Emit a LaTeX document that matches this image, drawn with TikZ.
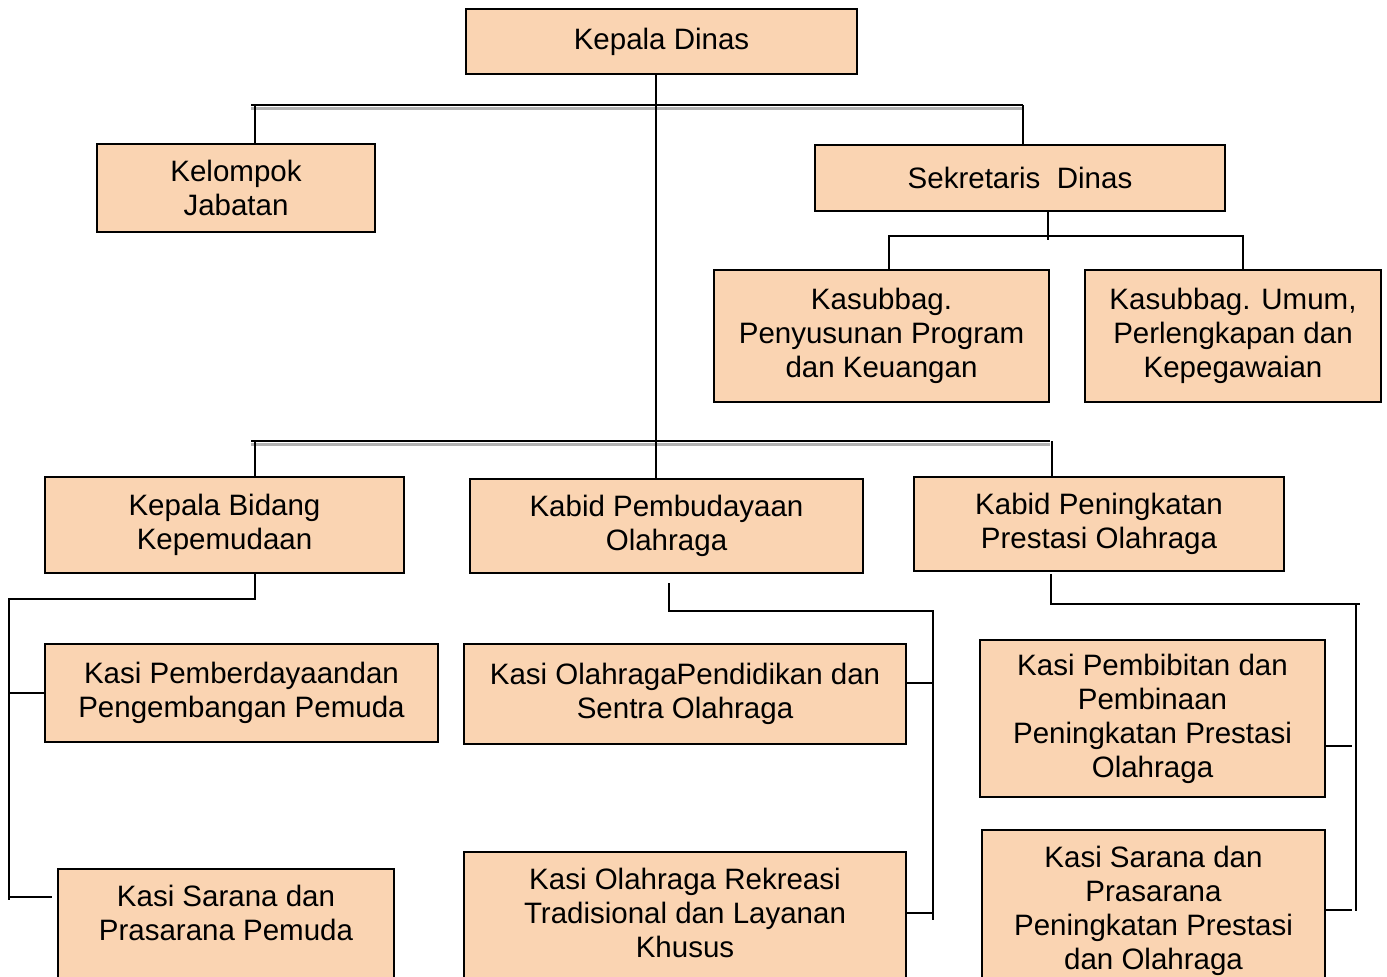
\documentclass[tikz,border=0pt]{standalone}
\usepackage{fontspec}
\setmainfont{Liberation Sans}
\definecolor{peach}{RGB}{250,212,178}
\tikzset{
	unit/.style={draw=black, line width=2.2pt, fill=peach, align=center, inner sep=0pt,
		font=\fontsize{29.5}{34}\selectfont},
	cut/.style={unit, anchor=north, inner ysep=16pt, text depth=160pt},
	link/.style={draw=black, line width=2.3pt},
	bar/.style={link, preaction={draw=black!30, line width=3pt, transform canvas={yshift=-3pt}}}
}
\begin{document}
\begin{tikzpicture}[x=1pt, y=-1pt]
	\useasboundingbox (0,0) rectangle (1387,977);
	\clip (0,0) rectangle (1387,977);
	
	% units
	\node[unit, minimum width=391, minimum height=65]  (kadis)       at (661.5, 41.5) {Kepala Dinas};
	\node[unit, minimum width=278, minimum height=88]  (kelompok)    at (236, 188)    {Kelompok\\Jabatan};
	\node[unit, minimum width=410, minimum height=66]  (sekretaris)  at (1020, 178)   {Sekretaris\ \ Dinas};
	\node[unit, minimum width=335, minimum height=132] (penyusunan)  at (881.5, 336)  {Kasubbag.\\Penyusunan Program\\dan Keuangan};
	\node[unit, minimum width=296, minimum height=132] (umum)        at (1233, 336)   {Kasubbag. Umum,\\Perlengkapan dan\\Kepegawaian};
	\node[unit, minimum width=359, minimum height=96]  (kepemudaan)  at (224.5, 525)  {Kepala Bidang\\Kepemudaan};
	\node[unit, minimum width=393, minimum height=94]  (pembudayaan) at (666.5, 526)  {Kabid Pembudayaan\\Olahraga};
	\node[unit, minimum width=370, minimum height=94]  (peningkatan) at (1099, 524)   {Kabid Peningkatan\\Prestasi Olahraga};
	\node[unit, minimum width=393, minimum height=98]  (pemberdayaan) at (241.5, 693) {Kasi Pemberdayaandan\\Pengembangan Pemuda};
	\node[unit, minimum width=442, minimum height=100] (pendidikan)  at (685, 694)    {Kasi OlahragaPendidikan dan\\Sentra Olahraga};
	\node[unit, minimum width=345, minimum height=157] (pembibitan)  at (1152.5, 718.5) {Kasi Pembibitan dan\\Pembinaan\\Peningkatan Prestasi\\Olahraga};
	\node[cut, minimum width=336] (sarpem)   at (226, 868)    {Kasi Sarana dan\\Prasarana Pemuda};
	\node[cut, minimum width=442] (rekreasi) at (685, 851)    {Kasi Olahraga Rekreasi\\Tradisional dan Layanan\\Khusus};
	\node[cut, minimum width=343] (sarpres)  at (1153.5, 829) {Kasi Sarana dan\\Prasarana\\Peningkatan Prestasi\\dan Olahraga};
	
	% junction points
	\coordinate (trunk) at (656, 0);
	\coordinate (barA) at (251, 105);
	\coordinate (barB) at (1023, 105);
	\coordinate (sekA) at (889, 236);
	\coordinate (sekB) at (1243, 236);
	\coordinate (sekC) at (1048, 240);
	\coordinate (barC) at (251, 441);
	\coordinate (barD) at (1050, 441);
	\coordinate (dropA) at (255, 0);
	\coordinate (dropB) at (1052, 0);
	\coordinate (pemA) at (9, 599);
	\coordinate (pemB) at (9, 900);
	\coordinate (pemC) at (52, 897);
	\coordinate (budA) at (669, 583);
	\coordinate (budB) at (933, 611);
	\coordinate (budC) at (933, 920);
	\coordinate (preA) at (1051, 574);
	\coordinate (preB) at (1360, 604);
	\coordinate (preC) at (1356, 911);
	\coordinate (preD) at (1352, 0);
	
	% connectors
	\draw[bar]  (barA) -- (barB);
	\draw[bar]  (barC) -- (barD);
	\draw[link] (kadis.south -| trunk) -- (pembudayaan.north -| trunk);
	\draw[link] (barA -| dropA) -- (kelompok.north -| dropA);
	\draw[link] (barB) -- (sekretaris.north -| barB);
	\draw[link] (sekretaris.south -| sekC) -- (sekC);
	\draw[link] (penyusunan.north -| sekA) |- (sekB) -- (umum.north -| sekB);
	\draw[link] (barC -| dropA) -- (kepemudaan.north -| dropA);
	\draw[link] (barD -| dropB) -- (peningkatan.north -| dropB);
	
	\draw[link] (kepemudaan.south -| dropA) |- (pemA) -- (pemB);
	\draw[link] (pemberdayaan.west -| pemA) -- (pemberdayaan.west);
	\draw[link] (pemC -| pemA) -- (pemC);
	
	\draw[link] (budA) |- (budB) -- (budC);
	\draw[link] (pendidikan.east |- 0,683) -- (budB |- 0,683);
	\draw[link] (rekreasi.north east |- 0,913) -- (budB |- 0,913);
	
	\draw[link] (preA) |- (preB);
	\draw[link] (preB -| preC) -- (preC);
	\draw[link] (pembibitan.east |- 0,746) -- (preD |- 0,746);
	\draw[link] (sarpres.north east |- 0,910) -- (preD |- 0,910);
	
\end{tikzpicture}
\end{document}
